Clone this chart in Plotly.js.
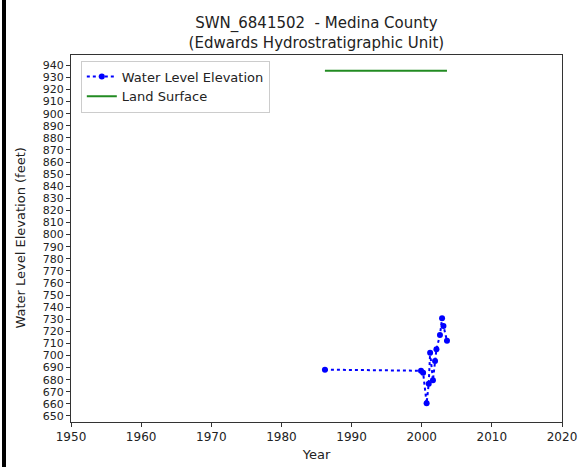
<!DOCTYPE html>
<html>
<head>
<meta charset="utf-8">
<script src="https://cdn.plot.ly/plotly-3.0.1.min.js"></script>
<style>
html,body{margin:0;padding:0;background:#fff;}
#wrap{position:relative;width:588px;height:467px;}
#bar{position:absolute;left:2px;top:0;width:4px;height:467px;background:#000;z-index:5;}
#chart{position:absolute;left:0;top:0;width:588px;height:467px;}
</style>
</head>
<body>
<div id="wrap"><div id="chart"></div><div id="bar"></div></div>
<script>
const years = [1986.2, 1999.9, 2000.2, 2000.7, 2001.0, 2001.2, 2001.6, 2001.9, 2002.1, 2002.6, 2002.9, 2003.1, 2003.6];
const waterLevel = [688.3, 687.4, 685.8, 660.5, 676.7, 702.3, 679.5, 695.5, 705.1, 716.9, 730.7, 724.4, 712.2];
const landYears = [1986.2, 2003.6];
const landSurface = [935.5, 935.5];
const yTicks = [650,660,670,680,690,700,710,720,730,740,750,760,770,780,790,800,810,820,830,840,850,860,870,880,890,900,910,920,930,940];
const xTicks = [1950,1960,1970,1980,1990,2000,2010,2020];
const yTitle = 'Water Level Elevation (feet)';

const font = "DejaVu Sans, sans-serif";
const traces = [
  {x: years, y: waterLevel, mode: 'lines+markers', name: 'Water Level Elevation',
   line: {color: '#0000ff', dash: 'dot', width: 2}, marker: {color: '#0000ff', size: 6}},
  {x: landYears, y: landSurface, mode: 'lines', name: 'Land Surface',
   line: {color: '#228b22', width: 2}}
];
const layout = {
  width: 588, height: 467,
  margin: {l: 71, r: 26, t: 55, b: 45},
  paper_bgcolor: '#fff', plot_bgcolor: '#fff',
  font: {family: font, color: '#222', size: 12},
  title: {text: 'SWN_6841502  - Medina County<br>(Edwards Hydrostratigraphic Unit)',
          x: 0.538, xanchor: 'center', yref: 'container', y: 1 - 28/467, yanchor: 'bottom',
          font: {size: 15, color: '#222'}},
  xaxis: {range: [1950, 2020], tickvals: xTicks, ticktext: xTicks.map(String),
          showgrid: false, zeroline: false, showline: true, mirror: true, linecolor: '#333', linewidth: 1,
          ticks: 'outside', ticklen: 4, tickcolor: '#333',
          title: {text: 'Year', font: {size: 13}, standoff: 6}},
  yaxis: {range: [645, 948.5], tickvals: yTicks, ticktext: yTicks.map(String),
          showgrid: false, zeroline: false, showline: true, mirror: true, linecolor: '#333', linewidth: 1,
          ticks: 'outside', ticklen: 4, tickcolor: '#333', tickfont: {size: 11}},
  annotations: [{text: yTitle, xref: 'paper', yref: 'paper', x: -51/491, y: 0.5,
                 xanchor: 'center', yanchor: 'middle', textangle: -90, showarrow: false,
                 font: {size: 13, color: '#222'}}],
  showlegend: true,
  legend: {x: 0.02, y: 0.985, xanchor: 'left', yanchor: 'top', bgcolor: '#fff',
           bordercolor: '#ccc', borderwidth: 1, font: {size: 13}, tracegroupgap: 0}
};
Plotly.newPlot('chart', traces, layout, {displayModeBar: false, staticPlot: true});
</script>
</body>
</html>
